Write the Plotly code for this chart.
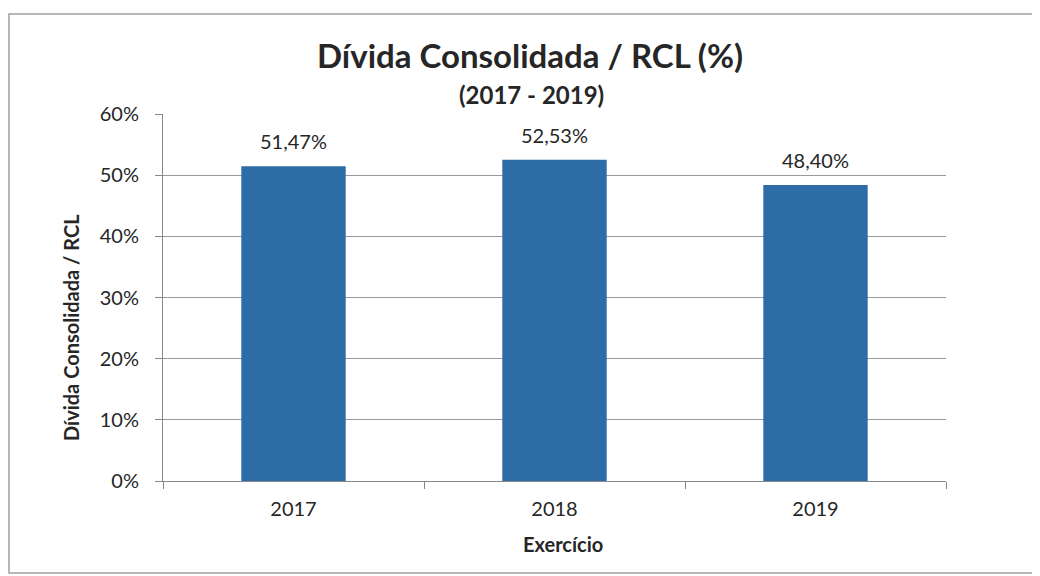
import plotly.graph_objects as go

years = ["2017", "2018", "2019"]
values = [51.47, 52.53, 48.40]
labels = ["51,47%", "52,53%", "48,40%"]
ytick_vals = [0, 10, 20, 30, 40, 50, 60]
ytick_text = ["0%", "10%", "20%", "30%", "40%", "50%", "60%"]

FONT = "Lato, Open Sans, sans-serif"
TXT = "#262626"

# page has an 8px body margin; work in reference-screen pixels
OX, OY = 8, 8
W, H = 1040 - OX, 576 - OY
L, R, T, B = 163 - OX, 946 - OX, 114 - OY, 481 - OY
pw, ph = R - L, B - T

def px(x):
    return (x - OX - L) / pw

def py(y):
    return (B - (y - OY)) / ph

fig = go.Figure()
fig.add_trace(go.Bar(
    x=years, y=values,
    marker=dict(color="#2E6CA6", line=dict(width=0)),
    width=0.4,
))

for i, (v, lab) in enumerate(zip(values, labels)):
    fig.add_annotation(x=i, y=v, text=lab, showarrow=False, yshift=25,
                       yanchor="middle", font=dict(size=20, family=FONT, color=TXT))

fig.update_layout(
    width=W, height=H,
    margin=dict(l=L, r=W - R, t=T, b=H - B, pad=0),
    paper_bgcolor="white", plot_bgcolor="white",
    font=dict(family=FONT, color=TXT),
    showlegend=False,
    xaxis=dict(
        type="category", categoryorder="array", categoryarray=years,
        range=[-0.5, len(years) - 0.5],
        showgrid=False, showline=True, linecolor="#888",
        linewidth=1, ticks="outside", tickson="boundaries", ticklen=7,
        tickcolor="#888", tickfont=dict(size=20, family=FONT, color=TXT),
        ticklabelstandoff=10,
    ),
    yaxis=dict(
        range=[0, 60], tickvals=ytick_vals, ticktext=ytick_text,
        showgrid=True, gridcolor="#9a9a9a", gridwidth=1,
        showline=True, linecolor="#888", linewidth=1,
        ticks="outside", ticklen=7, tickcolor="#888",
        tickfont=dict(size=20, family=FONT, color=TXT), zeroline=False,
        ticklabelstandoff=12,
    ),
    bargap=0.6,
)

fig.add_annotation(text="<b>Dívida Consolidada / RCL (%)</b>", xref="paper", yref="paper",
                   x=px(530), y=py(55), showarrow=False, font=dict(size=33, family=FONT, color=TXT),
                   xanchor="center", yanchor="middle")
fig.add_annotation(text="<b>(2017 - 2019)</b>", xref="paper", yref="paper",
                   x=px(531), y=py(94), showarrow=False, font=dict(size=24, family=FONT, color=TXT),
                   xanchor="center", yanchor="middle")
fig.add_annotation(text="<b>Dívida Consolidada / RCL</b>", xref="paper", yref="paper",
                   x=px(71), y=py(328), showarrow=False, textangle=-90,
                   font=dict(size=20, family=FONT, color=TXT),
                   xanchor="center", yanchor="middle")
fig.add_annotation(text="<b>Exercício</b>", xref="paper", yref="paper",
                   x=px(563), y=py(544), showarrow=False,
                   font=dict(size=20, family=FONT, color=TXT),
                   xanchor="center", yanchor="middle")

fig.add_shape(type="rect", xref="paper", yref="paper",
              x0=px(9), x1=px(1037), y0=py(573), y1=py(14),
              line=dict(color="#a0a0a0", width=1.5), fillcolor="rgba(0,0,0,0)", layer="below")

fig.write_html("out.html")
